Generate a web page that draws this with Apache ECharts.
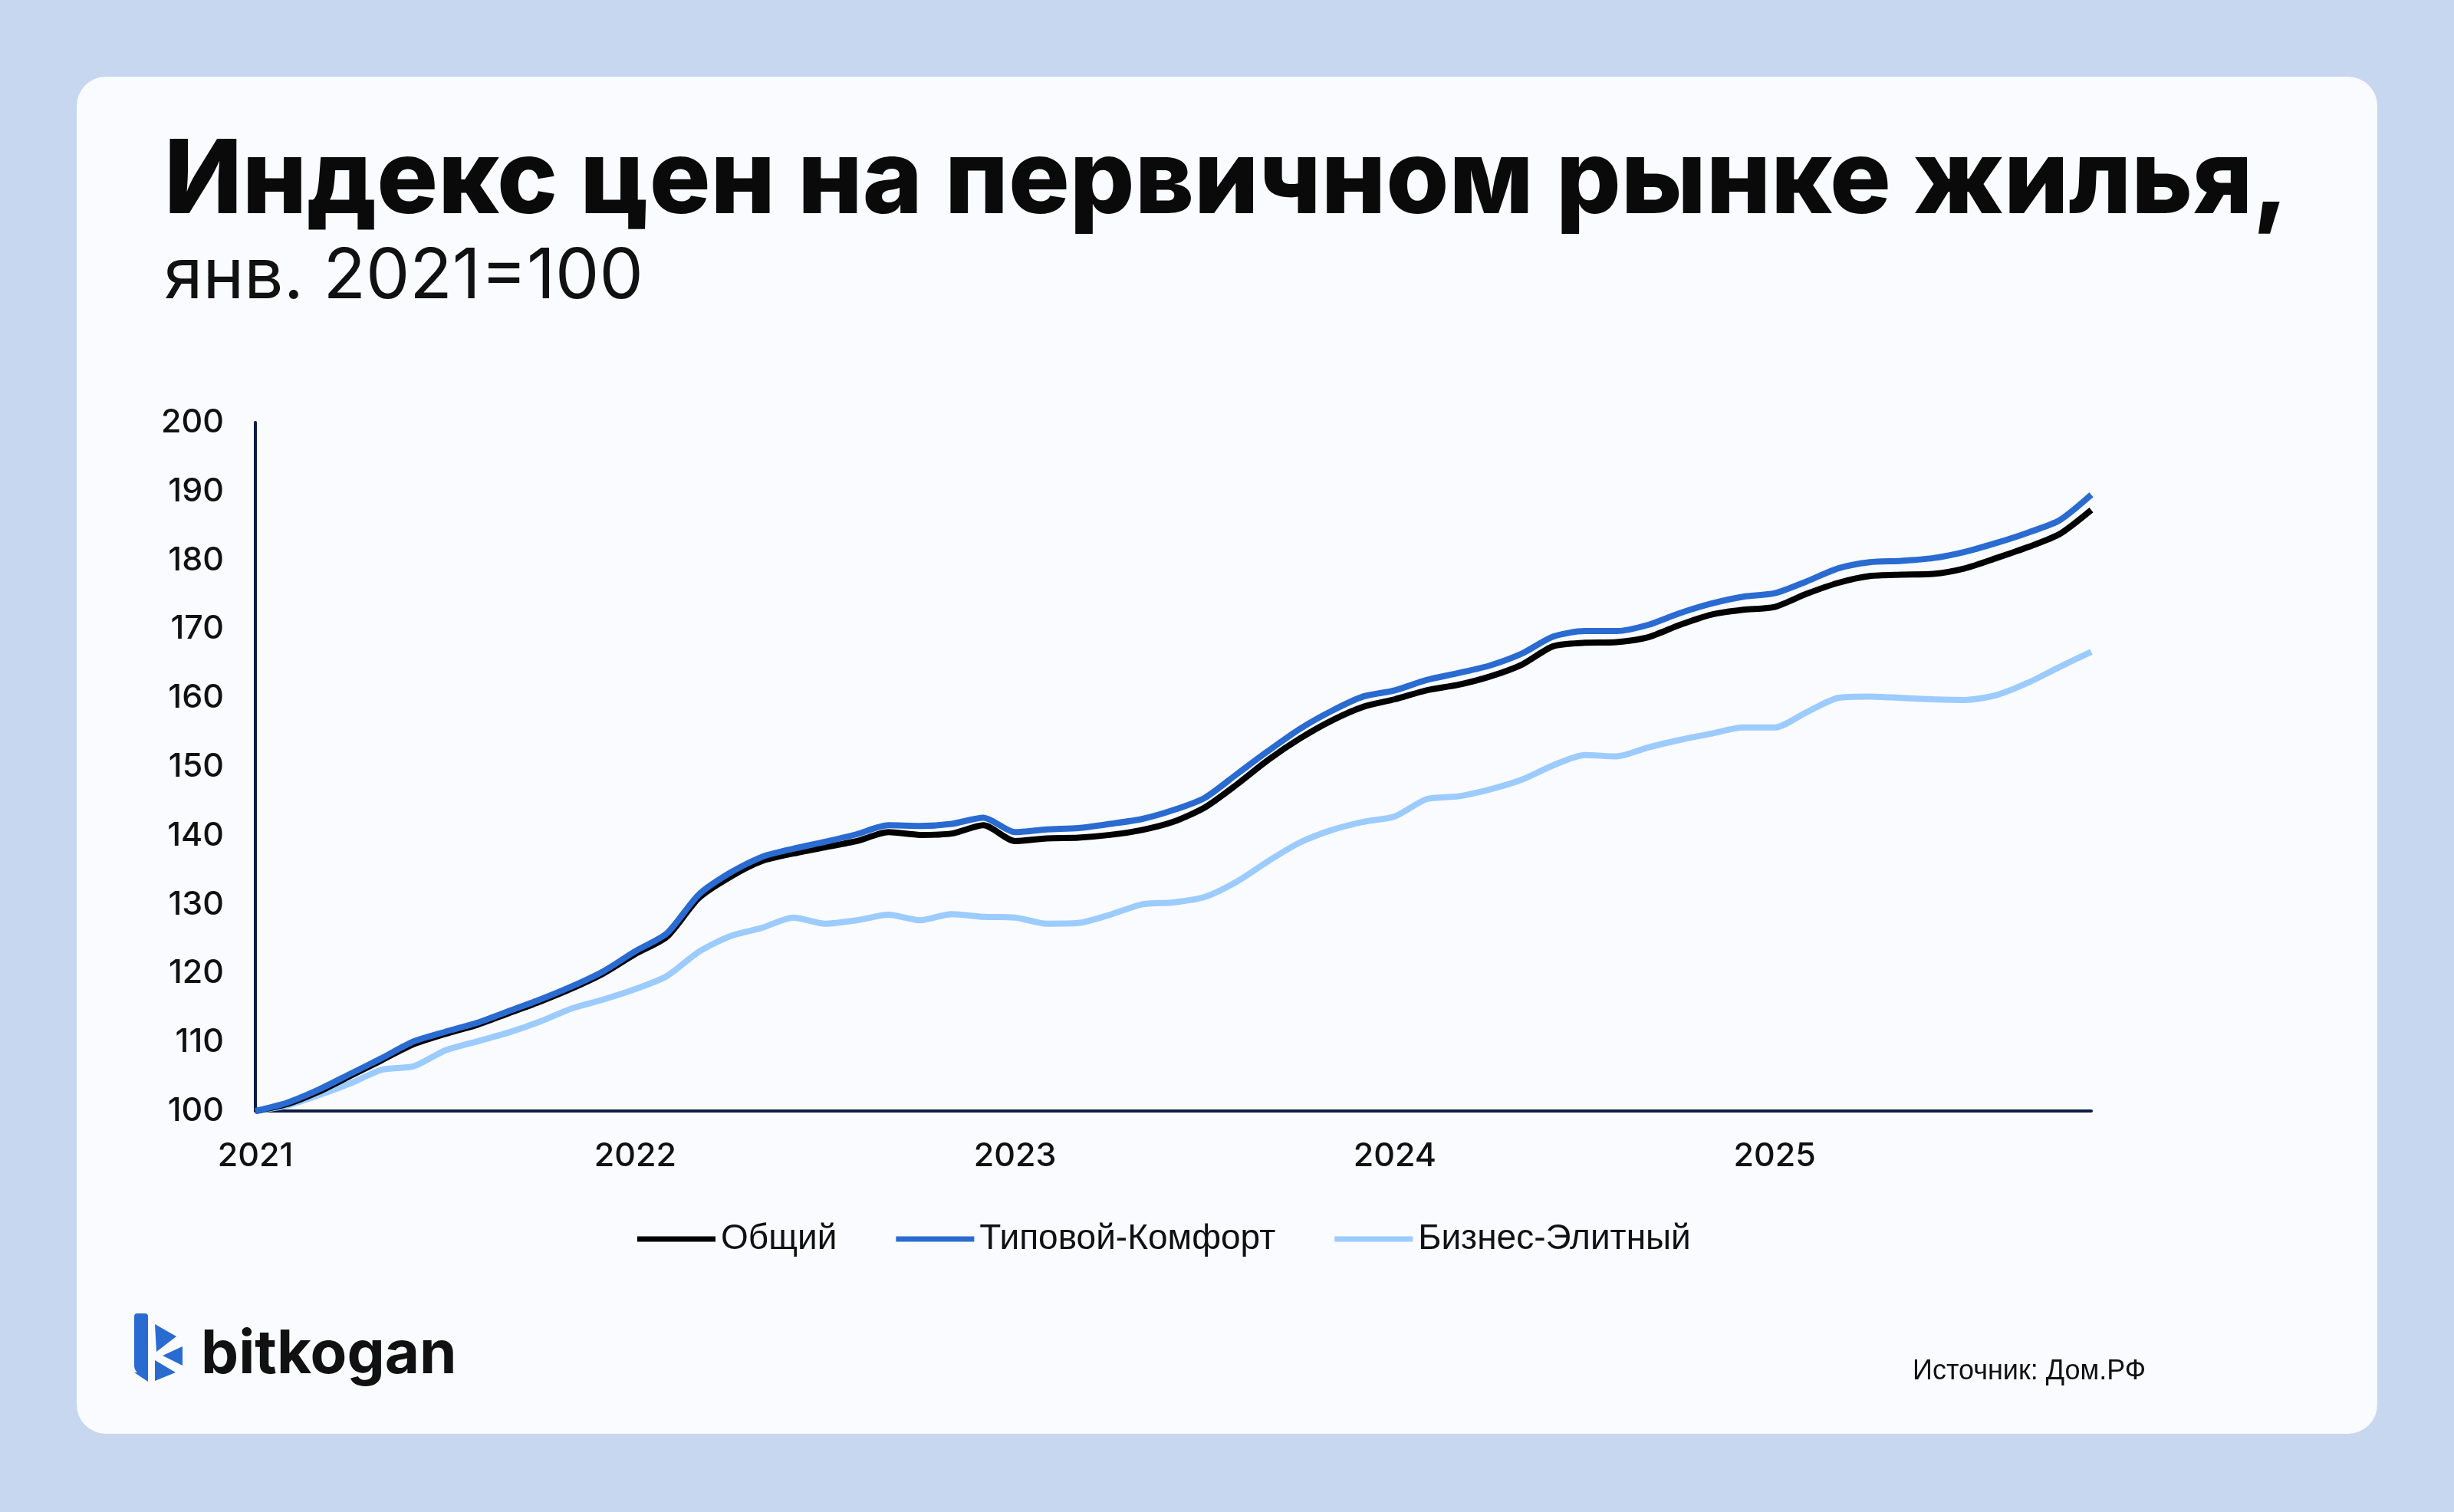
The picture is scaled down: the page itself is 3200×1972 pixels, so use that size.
<!DOCTYPE html>
<html>
<head>
<meta charset="utf-8">
<script src="https://cdn.jsdelivr.net/npm/echarts@6/dist/echarts.min.js"></script>
<style>
  html, body { margin: 0; padding: 0; background: #c7d7ef; }
  #chart { width: 3200px; height: 1972px; }
</style>
</head>
<body>
<div id="chart"></div>
<script>
// месяцы: янв. 2021 — ноя. 2025
var years = ["2021", "2022", "2023", "2024", "2025"];
var months = [];
years.forEach(function (y) {
  for (var m = 1; m <= 12; m++) {
    if (y === "2025" && m > 11) break;
    months.push(y + "-" + (m < 10 ? "0" + m : m));
  }
});

var yTicks = { min: 100, max: 200, step: 10 };

// Общий
var total = [
  100, 101.0, 102.8, 105.1, 107.4, 109.7, 111.2, 112.5, 114.2, 115.9, 117.8, 120.0,
  122.8, 125.3, 130.9, 134.0, 136.3, 137.4, 138.3, 139.2, 140.5, 140.1, 140.3, 141.5,
  139.2, 139.6, 139.7, 140.1, 140.8, 142.0, 144.1, 147.4, 151.0, 154.1, 156.7, 158.7,
  159.8, 161.1, 161.9, 163.1, 164.8, 167.5, 168.0, 168.1, 168.8, 170.6, 172.1, 172.8,
  173.2, 175.1, 176.7, 177.7, 177.9, 178.0, 178.8, 180.3, 181.9, 183.8, 187.3
];
// Типовой-Комфорт
var comfort = [
  100, 101.2, 103.1, 105.4, 107.7, 110.1, 111.5, 112.8, 114.5, 116.2, 118.1, 120.3,
  123.2, 125.8, 131.4, 134.6, 136.9, 138.1, 139.1, 140.2, 141.5, 141.4, 141.7, 142.6,
  140.5, 140.9, 141.1, 141.7, 142.4, 143.7, 145.5, 148.9, 152.3, 155.5, 158.1, 160.2,
  161.1, 162.6, 163.6, 164.7, 166.4, 168.9, 169.7, 169.7, 170.6, 172.3, 173.7, 174.7,
  175.2, 176.9, 178.8, 179.7, 179.9, 180.3, 181.2, 182.5, 184.0, 185.8, 189.5
];
// Бизнес-Элитный
var business = [
  100, 100.8, 102.3, 104.0, 106.0, 106.5, 108.8, 110.1, 111.4, 113.0, 114.9, 116.2,
  117.7, 119.6, 123.1, 125.4, 126.6, 128.1, 127.2, 127.7, 128.5, 127.7, 128.6, 128.2,
  128.1, 127.2, 127.3, 128.5, 130.0, 130.3, 131.1, 133.3, 136.3, 139.0, 140.8, 142.0,
  142.8, 145.3, 145.7, 146.7, 148.1, 150.2, 151.7, 151.5, 152.8, 153.9, 154.8, 155.7,
  155.7, 157.9, 160.0, 160.2, 160.0, 159.8, 159.7, 160.4, 162.2, 164.5, 166.7
];

var names = ["Общий", "Типовой-Комфорт", "Бизнес-Элитный"];
var colors = { total: "#000000", comfort: "#2a6bd1", business: "#9ccbff" };

var myChart = echarts.init(document.getElementById("chart"));

var option = {
  backgroundColor: "#c7d7ef",
  animation: false,
  graphic: [
    // карточка
    {
      type: "rect", z: -10,
      shape: { x: 100, y: 100, width: 3000, height: 1770, r: 38 },
      style: { fill: "#f9fbfe" }
    },
    {
      type: "text",
      style: {
        text: "Индекс цен на первичном рынке жилья,",
        x: 214, y: 238, textVerticalAlign: "middle",
        font: "800 133px Inter", fill: "#0a0a0a"
      }
    },
    {
      type: "text",
      style: {
        text: "янв. 2021=100",
        x: 214, y: 362, textVerticalAlign: "middle",
        font: "400 91px Inter", fill: "#111111"
      }
    },
    // логотип
    {
      type: "group",
      children: [
        { type: "rect", shape: { x: 175, y: 1713, width: 18, height: 80, r: [4, 4, 0, 12] }, style: { fill: "#2a6bd1" } },
        { type: "polygon", shape: { points: [[175, 1790], [193, 1790], [193, 1802]] }, style: { fill: "#2a6bd1" } },
        { type: "polygon", shape: { points: [[202, 1727], [230, 1743], [204, 1763]] }, style: { fill: "#2a6bd1" } },
        { type: "polygon", shape: { points: [[212, 1768], [238, 1756], [238, 1781]] }, style: { fill: "#2a6bd1" } },
        { type: "polygon", shape: { points: [[202, 1774], [229, 1790], [202, 1801]] }, style: { fill: "#2a6bd1" } }
      ]
    },
    {
      type: "text",
      style: {
        text: "bitkogan",
        x: 262, y: 1768, textVerticalAlign: "middle",
        font: "700 78px Inter", fill: "#111111"
      }
    },
    {
      type: "text",
      style: {
        text: "Источник: Дом.РФ",
        x: 2494, y: 1789, textVerticalAlign: "middle",
        font: "36px 'Liberation Sans'", fill: "#111111"
      }
    }
  ],
  grid: { left: 333, right: 473, top: 551, bottom: 523 },
  legend: {
    data: names,
    left: 826,
    top: 1588,
    icon: "rect",
    itemWidth: 102,
    itemHeight: 7,
    itemGap: 77,
    textStyle: {
      fontFamily: "Liberation Sans",
      fontSize: 46,
      color: "#111111",
      padding: [0, 0, 0, 2]
    }
  },
  xAxis: {
    type: "category",
    data: months,
    boundaryGap: false,
    axisLine: { show: true, lineStyle: { color: "#0e1c45", width: 4 } },
    axisTick: { show: false },
    splitLine: { show: false },
    axisLabel: {
      interval: function (i) { return i % 12 === 0; },
      formatter: function (v) { return v.slice(0, 4); },
      margin: 38,
      fontFamily: "Inter",
      fontWeight: 500,
      fontSize: 43,
      color: "#111111"
    }
  },
  yAxis: {
    type: "value",
    min: yTicks.min,
    max: yTicks.max,
    interval: yTicks.step,
    axisLine: { show: true, lineStyle: { color: "#0e1c45", width: 4 } },
    axisTick: { show: false },
    splitLine: { show: false },
    axisLabel: {
      margin: 41,
      fontFamily: "Inter",
      fontWeight: 500,
      fontSize: 43,
      color: "#111111"
    }
  },
  series: [
    {
      name: names[2], type: "line", data: business, smooth: 0.25,
      showSymbol: false, itemStyle: { color: colors.business },
      lineStyle: { width: 8, color: colors.business }
    },
    {
      name: names[0], type: "line", data: total, smooth: 0.25,
      showSymbol: false, itemStyle: { color: colors.total },
      lineStyle: { width: 8, color: colors.total }
    },
    {
      name: names[1], type: "line", data: comfort, smooth: 0.25,
      showSymbol: false, itemStyle: { color: colors.comfort },
      lineStyle: { width: 8, color: colors.comfort }
    }
  ]
};

myChart.setOption(option);
window.addEventListener("resize", function () {
  myChart.resize();
});
</script>
</body>
</html>
